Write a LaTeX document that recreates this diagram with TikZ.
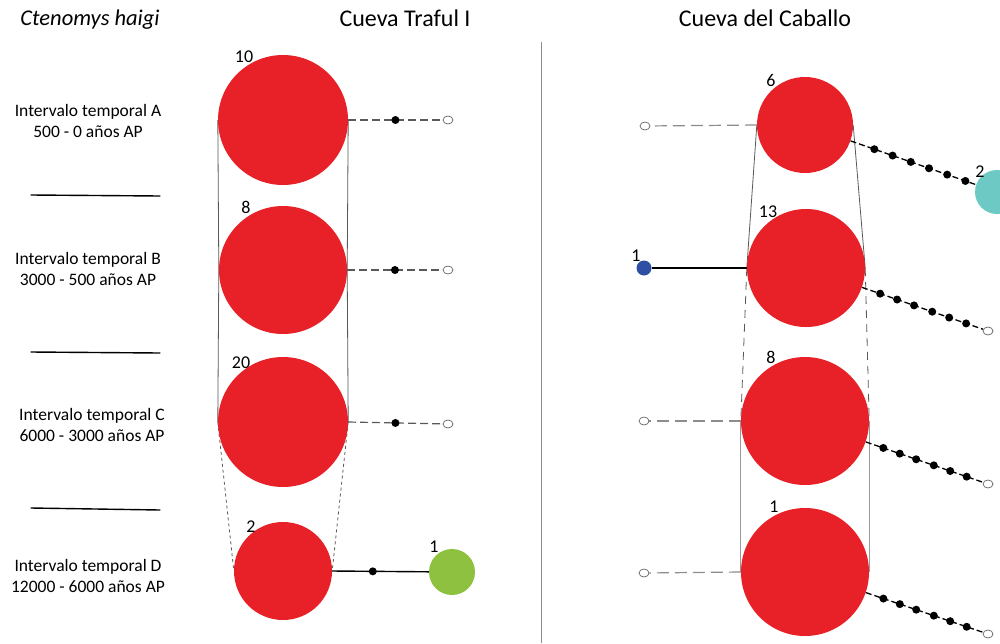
\documentclass[tikz,border=0pt]{standalone}
\usepackage{fontspec}
\setmainfont{Carlito}
\usetikzlibrary{backgrounds,shapes.geometric}
\definecolor{hapred}{HTML}{E82128}
\definecolor{hapgreen}{HTML}{8DC13F}
\definecolor{hapteal}{HTML}{6CC9C3}
\definecolor{hapblue}{HTML}{2E4FA3}
\begin{document}
\begin{tikzpicture}[x=1pt,y=-1pt,
  hap/.style={circle,fill=hapred,draw=none,inner sep=0pt,minimum size=#1},
  num/.style={font=\fontsize{18}{18}\selectfont,inner sep=0pt},
  title/.style={font=\fontsize{24}{24}\selectfont,inner sep=0pt},
  lab/.style={font=\fontsize{17.5}{21}\selectfont,align=center,inner sep=0pt},
  opendot/.style={ellipse,draw=gray!80!black,line width=0.7pt,fill=white,minimum width=10pt,minimum height=8pt,inner sep=0pt},
  blackdot/.style={circle,fill=black,inner sep=0pt,minimum size=8pt},
  outl/.style={draw=black!65,line width=0.8pt},
  dlink/.style={draw=black!65,line width=1.2pt,dash pattern=on 8pt off 4pt},
  dlinkL/.style={draw=black!45,line width=1.2pt,dash pattern=on 12pt off 6pt},
  sep/.style={line width=1.4pt,line cap=round},
  mutline/.style={draw=black,line width=1.3pt,dash pattern=on 6pt off 3pt},
]
\useasboundingbox (0,0) rectangle (1000,643);
\clip (0,0) rectangle (1000,643);

% titles
\node[font=\fontsize{22.5}{22.5}\selectfont\itshape,inner sep=0pt] (sp) at (90,20) {Ctenomys haigi};
\node[title] (ttr) at (405,18) {Cueva Traful I};
\node[title] (tca) at (765,18) {Cueva del Caballo};

% vertical separator
\coordinate (vtop) at (541,42);
\coordinate (vbot) at (541,643);
\draw[black!45,line width=1pt] (vtop) -- (vbot);

% interval labels
\node[lab] (lA) at (88,121) {Intervalo temporal A\\500 - 0 años AP};
\node[lab] (lB) at (88,269) {Intervalo temporal B\\3000 - 500 años AP};
\node[lab] (lC) at (92,425) {Intervalo temporal C\\6000 - 3000 años AP};
\node[lab] (lD) at (88,576) {Intervalo temporal D\\12000 - 6000 años AP};
\coordinate (s1a) at (31,195); \coordinate (s1b) at (160,196);
\coordinate (s2a) at (31,352); \coordinate (s2b) at (160,353);
\coordinate (s3a) at (31,508); \coordinate (s3b) at (160,510);
\draw[sep] (s1a) -- (s1b);
\draw[sep] (s2a) -- (s2b);
\draw[sep] (s3a) -- (s3b);

% ---------- Cueva Traful I ----------
\node[hap=130pt] (tA) at (283,120) {};
\node[hap=128pt] (tB) at (283,270) {};
\node[hap=130pt] (tC) at (283,422) {};
\node[hap=98pt]  (tD) at (283,571) {};
\node[num] (ntA) at (244,57) {10};
\node[num] (ntB) at (246,207) {8};
\node[num] (ntC) at (241,363) {20};
\node[num] (ntD) at (251,527) {2};

\begin{pgfonlayer}{background}
\draw[outl] (tA.west) -- (tB.west) -- (tC.west);
\draw[outl] (tA.east) -- (tB.east) -- (tC.east);
\draw[outl,dashed] (tC.west) -- (tD.west);
\draw[outl,dashed] (tC.east) -- (tD.east);
\end{pgfonlayer}

\node[opendot] (tAo) at (448,120) {};
\node[opendot] (tBo) at (448,270) {};
\node[opendot] (tCo) at (448,424) {};
\draw[dlink] (tA.east) -- (tAo) node[blackdot,pos=0.5] (tAm) {};
\draw[dlink] (tB.east) -- (tBo) node[blackdot,pos=0.5] (tBm) {};
\draw[dlink] (tC.east) -- (tCo) node[blackdot,pos=0.5] (tCm) {};

\node[circle,fill=hapgreen,inner sep=0pt,minimum size=46pt] (tG) at (452,572) {};
\node[num] (ntG) at (434,547) {1};
\draw[black,line width=1.4pt] (tD.east) -- (tG) node[blackdot,pos=0.42] (tDm) {};

% ---------- Cueva del Caballo ----------
\node[hap=96pt]  (cA) at (805,125) {};
\node[hap=118pt] (cB) at (806,268) {};
\node[hap=128pt] (cC) at (805,421) {};
\node[hap=128pt] (cD) at (805,572) {};
\node[num] (ncA) at (771,80) {6};
\node[num] (ncB) at (768,212) {13};
\node[num] (ncC) at (771,357) {8};
\node[num] (ncD) at (774,507) {1};

\begin{pgfonlayer}{background}
\draw[outl] (cA.west) -- (cB.west);
\draw[outl] (cA.east) -- (cB.east);
\draw[outl,dash pattern=on 8pt off 6pt] (cB.west) -- (cC.west);
\draw[outl,dash pattern=on 8pt off 6pt] (cB.east) -- (cC.east);
\draw[draw=black!40,line width=0.7pt] (cC.west) -- (cD.west);
\draw[draw=black!40,line width=0.7pt] (cC.east) -- (cD.east);
\end{pgfonlayer}

% left links
\node[opendot] (cAo) at (645,126) {};
\node[opendot] (cCo) at (644,421) {};
\node[opendot] (cDo) at (644,573) {};
\draw[dlinkL] (cA.west) -- (cAo);
\draw[dlinkL] (cC.west) -- (cCo);
\draw[dlinkL] (cD.west) -- (cDo);
\node[circle,fill=hapblue,inner sep=0pt,minimum width=15pt,minimum height=13pt] (cBl) at (644,268) {};
\node[num] (ncBl) at (636,256) {1};
\draw[black,line width=1.4pt] (cB.west) -- (cBl);

% right links
\node[circle,fill=hapteal,inner sep=0pt,minimum size=44pt] (cT) at (997,192) {};
\node[num] (ncT) at (980,172) {2};
\node[opendot] (cBo) at (988,331) {};
\node[opendot] (cCo2) at (988,484) {};
\node[opendot] (cDo2) at (988,634) {};
\draw[mutline] (cA) -- (cT)
  node[blackdot,pos=0.19] {} node[blackdot,pos=0.335] {} node[blackdot,pos=0.48] {}
  node[blackdot,pos=0.625] {} node[blackdot,pos=0.77] {} node[blackdot,pos=0.915] {};
\draw[mutline] (cB) -- (cBo)
  node[blackdot,pos=0.15] {} node[blackdot,pos=0.29] {} node[blackdot,pos=0.43] {}
  node[blackdot,pos=0.58] {} node[blackdot,pos=0.72] {} node[blackdot,pos=0.86] {};
\draw[mutline] (cC) -- (cCo2)
  node[blackdot,pos=0.15] {} node[blackdot,pos=0.29] {} node[blackdot,pos=0.43] {}
  node[blackdot,pos=0.58] {} node[blackdot,pos=0.72] {} node[blackdot,pos=0.86] {};
\draw[mutline] (cD) -- (cDo2)
  node[blackdot,pos=0.15] {} node[blackdot,pos=0.29] {} node[blackdot,pos=0.43] {}
  node[blackdot,pos=0.58] {} node[blackdot,pos=0.72] {} node[blackdot,pos=0.86] {};
\end{tikzpicture}
\end{document}
